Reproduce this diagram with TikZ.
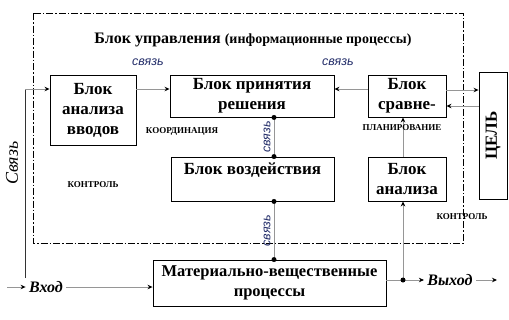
\documentclass[tikz,border=0pt]{standalone}
\usepackage{fontspec}
\setmainfont{Liberation Serif}
\newfontfamily\linkfont{Liberation Sans}
\usetikzlibrary{arrows.meta, positioning, calc}
\definecolor{linkblue}{RGB}{35,45,105}
\definecolor{wiregray}{RGB}{150,150,150}

\begin{document}
\begin{tikzpicture}[x=1pt, y=-1pt,
    blk/.style={draw, line width=0.9pt, align=center, inner sep=0pt,
                font=\fontsize{17}{20}\selectfont\bfseries},
    frame/.style={line width=0.7pt, dash pattern=on 7pt off 2pt on 1.5pt off 2pt},
    line/.style={line width=1pt, color=wiregray},
    arr/.style={line, -{Stealth[length=5pt, width=4.5pt, black]}},
    dot/.style={circle, fill=black, inner sep=0pt, minimum size=5pt},
    link/.style={font=\linkfont\itshape\fontsize{12.5}{12.5}\selectfont, text=linkblue},
    note/.style={font=\bfseries\fontsize{9}{9}\selectfont},
    io/.style={font=\bfseries\itshape\fontsize{16}{18}\selectfont}
  ]
    \useasboundingbox (0,0) rectangle (509,319);

    % control block frame
    \draw[frame] (33,13) rectangle (463,243);
    \node[font=\bfseries\fontsize{16}{18}\selectfont] (title) at (253,40)
      {Блок управления {\fontsize{14}{16}\selectfont(информационные процессы)}};

    \node[blk, minimum width=86, minimum height=70] (vvod) at (93,110) {Блок\\анализа\\вводов};
    \node[blk, minimum width=164, minimum height=42] (prin) at (252,96) {Блок принятия\\решения};
    \node[blk, minimum width=78, minimum height=42] (srav) at (407,96) {Блок\\сравне-};
    \node[blk, minimum width=28, minimum height=127] (cel) at (493,135.5) {\rotatebox{90}{ЦЕЛЬ}};
    \node[blk, minimum width=163, minimum height=44] (vozd) at (252.5,179) {Блок воздействия\\\mbox{}};
    \node[blk, minimum width=78, minimum height=44] (anal) at (407,179) {Блок\\анализа};
    \node[blk, minimum width=233, minimum height=46, font=\fontsize{16.5}{20}\selectfont\bfseries] (mat) at (269.5,283)
      {Материально-вещественные\\процессы};

    \node[io] (vhod) at (46,287) {Вход};
    \node[io] (vyhod) at (450,280) {Выход};
    \coordinate (inL) at (7,287);
    \coordinate (outR) at (497,280);
    \coordinate (split) at (403,280);
    \coordinate (fbot) at (25,278);
    \coordinate (ftop) at (25,89);

    % input and feedback
    \draw[arr] (inL) -- (vhod.west);
    \draw[arr] (vhod.east) -- (vhod.east -| mat.west);
    \draw[line, black!80] (fbot) -- (ftop);
    \draw[arr] (ftop) -- (ftop -| vvod.west);
    \node[io, font=\itshape\fontsize{18}{18}\selectfont, rotate=90] (svyaz) at (12,163) {Связь};

    % control loop
    \draw[arr] ([yshift=7pt]prin.west -| vvod.east) -- ([yshift=7pt]prin.west);
    \draw[arr] ([yshift=7pt]srav.west) -- ([yshift=7pt]prin.east);
    \draw[arr] ([yshift=6pt]srav.east) -- ([yshift=6pt]srav.east -| cel.west);
    \draw[arr] ([yshift=-10pt]cel.west |- srav.east) -- ([yshift=-10pt]srav.east);
    \node[link] (l1) at (148,62) {связь};
    \node[link] (l2) at (338,62) {связь};

    \draw[line] ([xshift=22pt]prin.south) node[dot] {} -- ([xshift=22pt]prin.south |- vozd.north)
      node[dot] {} node[link, midway, rotate=90, anchor=south, inner sep=3pt] {связь};
    \draw[line] ([xshift=22pt]prin.south |- vozd.south) node[dot] {} -- ([xshift=22pt]prin.south |- mat.north)
      node[dot] {} node[link, midway, rotate=90, anchor=south, inner sep=3pt] {связь};

    % output
    \draw[line] (split -| mat.east) -- (split);
    \draw[arr] (split) -- (vyhod.west);
    \draw[arr] (vyhod.east) -- (outR);
    \draw[arr] (split) -- (split |- anal.south);
    \draw[arr] (split |- anal.north) -- (split |- srav.south);
    \node[dot] at (split) {};

    \node[note] (plan) at (402,128) {ПЛАНИРОВАНИЕ};
    \node[note] (koord) at (182,131) {КООРДИНАЦИЯ};
    \node[note] (kontr1) at (93,185) {КОНТРОЛЬ};
    \node[note] (kontr2) at (462,217) {КОНТРОЛЬ};
\end{tikzpicture}
\end{document}
